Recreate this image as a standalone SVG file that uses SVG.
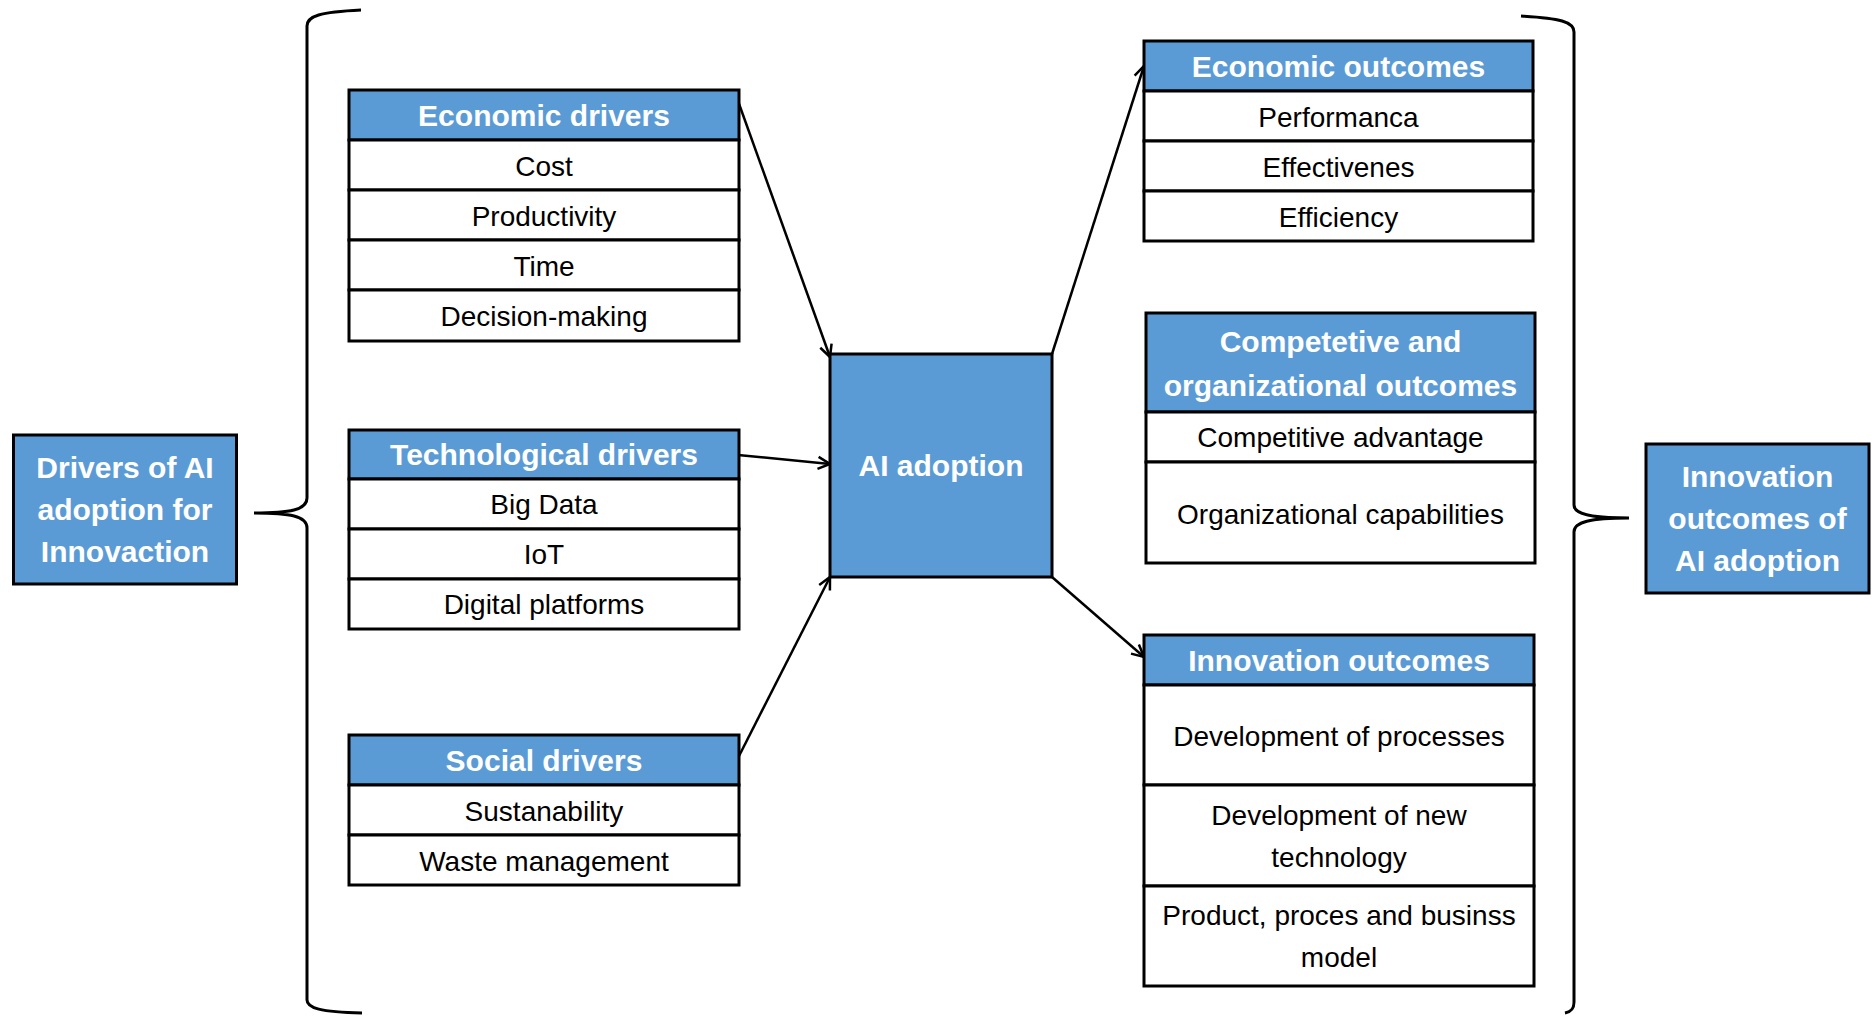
<svg xmlns="http://www.w3.org/2000/svg" width="1876" height="1016" viewBox="0 0 1876 1016">
  <style>
    .hdr { fill: #5B9BD5; stroke: #000; stroke-width: 3; }
    .cell { fill: #fff; stroke: #000; stroke-width: 3; }
    .ht { font-family: "Liberation Sans", Arial, sans-serif; font-weight: bold; font-size: 30px; fill: #fff; text-anchor: middle; }
    .ct { font-family: "Liberation Sans", Arial, sans-serif; font-size: 28px; fill: #000; text-anchor: middle; }
    .brace { fill: none; stroke: #000; stroke-width: 3; }
    .conn { fill: none; stroke: #000; stroke-width: 2.5; }
  </style>
  <defs>
    <marker id="open-arrow" viewBox="0 0 16 16" refX="14" refY="8" markerWidth="16" markerHeight="16" markerUnits="userSpaceOnUse" orient="auto">
      <path d="M2,2 L14,8 L2,14" fill="none" stroke="#000" stroke-width="2.5"/>
    </marker>
  </defs>
  <rect width="1876" height="1016" fill="#fff"/>

  <!-- braces -->
  <g id="braces">
    <path class="brace" d="M361,10 C320,12 307,16 307,26 L307,498 C307,510 290,513 254,513 C290,513 307,516 307,528 L307,1000 C307,1008 320,1012 362,1013"/>
    <path class="brace" d="M1521,16 C1560,18 1574,22 1574,32 L1574,505 C1574,514 1590,518 1629,518 C1590,518 1574,522 1574,532 L1574,1002 C1574,1010 1570,1012 1565,1013"/>
  </g>

  <!-- connectors -->
  <g id="connectors">
    <path class="conn" d="M738,101 L830,357" marker-end="url(#open-arrow)"/>
    <path class="conn" d="M738,455 L830,464" marker-end="url(#open-arrow)"/>
    <path class="conn" d="M738,758 L830,577" marker-end="url(#open-arrow)"/>
    <path class="conn" d="M1052,354 L1144,66" marker-end="url(#open-arrow)"/>
    <path class="conn" d="M1052,577 L1144,657" marker-end="url(#open-arrow)"/>
  </g>

  <!-- left summary box -->
  <g id="drivers-summary">
    <rect class="hdr" x="13.5" y="435" width="223" height="149"/>
    <text class="ht" x="125" y="478">Drivers of AI</text>
    <text class="ht" x="125" y="520">adoption for</text>
    <text class="ht" x="125" y="562">Innovaction</text>
  </g>

  <g id="economic-drivers">
    <rect class="hdr" x="349" y="90" width="390" height="50"/>
    <rect class="cell" x="349" y="140" width="390" height="50"/>
    <rect class="cell" x="349" y="190" width="390" height="50"/>
    <rect class="cell" x="349" y="240" width="390" height="50"/>
    <rect class="cell" x="349" y="290" width="390" height="51"/>
    <text class="ht" x="544" y="126">Economic drivers</text>
    <text class="ct" x="544" y="176">Cost</text>
    <text class="ct" x="544" y="226">Productivity</text>
    <text class="ct" x="544" y="276">Time</text>
    <text class="ct" x="544" y="326">Decision-making</text>
  </g>

  <g id="technological-drivers">
    <rect class="hdr" x="349" y="430" width="390" height="49"/>
    <rect class="cell" x="349" y="479" width="390" height="50"/>
    <rect class="cell" x="349" y="529" width="390" height="50"/>
    <rect class="cell" x="349" y="579" width="390" height="50"/>
    <text class="ht" x="544" y="465">Technological drivers</text>
    <text class="ct" x="544" y="514">Big Data</text>
    <text class="ct" x="544" y="564">IoT</text>
    <text class="ct" x="544" y="614">Digital platforms</text>
  </g>

  <g id="social-drivers">
    <rect class="hdr" x="349" y="735" width="390" height="50"/>
    <rect class="cell" x="349" y="785" width="390" height="50"/>
    <rect class="cell" x="349" y="835" width="390" height="50"/>
    <text class="ht" x="544" y="771">Social drivers</text>
    <text class="ct" x="544" y="821">Sustanability</text>
    <text class="ct" x="544" y="871">Waste management</text>
  </g>

  <g id="ai-adoption">
    <rect class="hdr" x="830" y="354" width="222" height="223"/>
    <text class="ht" x="941" y="476">AI adoption</text>
  </g>

  <g id="economic-outcomes">
    <rect class="hdr" x="1144" y="41" width="389" height="50"/>
    <rect class="cell" x="1144" y="91" width="389" height="50"/>
    <rect class="cell" x="1144" y="141" width="389" height="50"/>
    <rect class="cell" x="1144" y="191" width="389" height="50"/>
    <text class="ht" x="1338.5" y="77">Economic outcomes</text>
    <text class="ct" x="1338.5" y="127">Performanca</text>
    <text class="ct" x="1338.5" y="177">Effectivenes</text>
    <text class="ct" x="1338.5" y="227">Efficiency</text>
  </g>

  <g id="competitive-outcomes">
    <rect class="hdr" x="1146" y="313" width="389" height="99"/>
    <rect class="cell" x="1146" y="412" width="389" height="50"/>
    <rect class="cell" x="1146" y="462" width="389" height="101"/>
    <text class="ht" x="1340.5" y="352">Competetive and</text>
    <text class="ht" x="1340.5" y="396">organizational outcomes</text>
    <text class="ct" x="1340.5" y="447">Competitive advantage</text>
    <text class="ct" x="1340.5" y="524">Organizational capabilities</text>
  </g>

  <g id="innovation-outcomes">
    <rect class="hdr" x="1144" y="635" width="390" height="50"/>
    <rect class="cell" x="1144" y="685" width="390" height="100"/>
    <rect class="cell" x="1144" y="785" width="390" height="101"/>
    <rect class="cell" x="1144" y="886" width="390" height="100"/>
    <text class="ht" x="1339" y="671">Innovation outcomes</text>
    <text class="ct" x="1339" y="746">Development of processes</text>
    <text class="ct" x="1339" y="825">Development of new</text>
    <text class="ct" x="1339" y="867">technology</text>
    <text class="ct" x="1339" y="925">Product, proces and businss</text>
    <text class="ct" x="1339" y="967">model</text>
  </g>

  <!-- right summary box -->
  <g id="outcomes-summary">
    <rect class="hdr" x="1646" y="444" width="223" height="149"/>
    <text class="ht" x="1757.5" y="487">Innovation</text>
    <text class="ht" x="1757.5" y="529">outcomes of</text>
    <text class="ht" x="1757.5" y="571">AI adoption</text>
  </g>
</svg>
